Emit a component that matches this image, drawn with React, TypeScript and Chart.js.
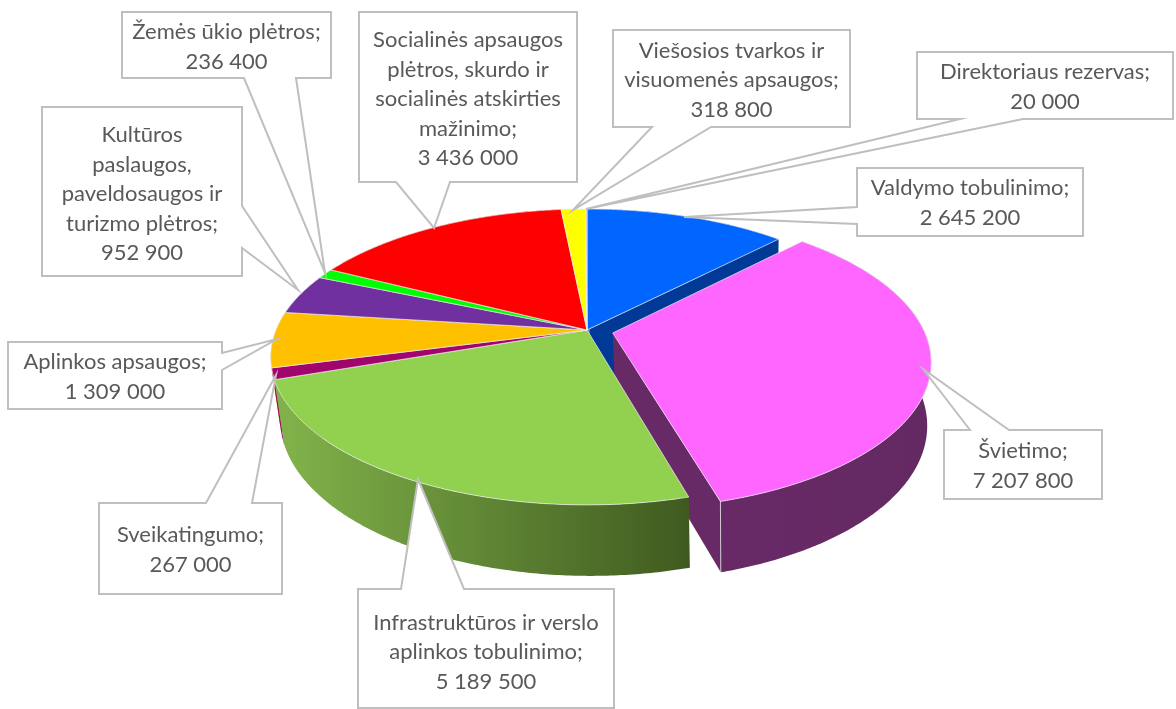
import React, { useEffect, useRef } from "react";
import { Chart, registerables } from "chart.js";

Chart.register(...registerables);

// ---- data ----
const categories = [
  "Valdymo tobulinimo",
  "Švietimo",
  "Infrastruktūros ir verslo aplinkos tobulinimo",
  "Sveikatingumo",
  "Aplinkos apsaugos",
  "Kultūros paslaugos, paveldosaugos ir turizmo plėtros",
  "Žemės ūkio plėtros",
  "Socialinės apsaugos plėtros, skurdo ir socialinės atskirties mažinimo",
  "Viešosios tvarkos ir visuomenės apsaugos",
  "Direktoriaus rezervas",
];
const values = [2645200, 7207800, 5189500, 267000, 1309000, 952900, 236400, 3436000, 318800, 20000];
const labelLines = [
  ["Valdymo tobulinimo;"],
  ["Švietimo;"],
  ["Infrastruktūros ir verslo", "aplinkos tobulinimo;"],
  ["Sveikatingumo;"],
  ["Aplinkos apsaugos;"],
  ["Kultūros", "paslaugos,", "paveldosaugos ir", "turizmo plėtros;"],
  ["Žemės ūkio plėtros;"],
  ["Socialinės apsaugos", "plėtros, skurdo ir", "socialinės atskirties", "mažinimo;"],
  ["Viešosios tvarkos ir", "visuomenės apsaugos;"],
  ["Direktoriaus rezervas;"],
];

// ---- styles ----
const topColors = ["#0066FF", "#FF66FF", "#92D050", "#A1046D", "#FFC000", "#7030A0", "#00FF00", "#FF0000", "#FFFF00", "#C4C4C4"];
const sideLeft = ["#003A96", "#682A67", "#82B44B", "#A1046D", "#A67C00", "#4A2069", "#00A000", "#A00000", "#A0A000", "#808080"];
const sideRight = ["#003A96", "#642962", "#3F5A1F", "#A1046D", "#A67C00", "#4A2069", "#00A000", "#A00000", "#A0A000", "#808080"];
const explodedIndex = 1;
const EXPLODE = 0.085; // fraction of the radius
const TILT = 0.46; // vertical squash of the disc
const PERSP = 0.182; // perspective strength along the disc depth
const PERSP_Z = 0.02; // perspective strength along the extrusion
const DEPTH = 63; // extrusion in px
const SHEAR = 3; // sideways drift of the extrusion in px
const FONT = '22px Lato, "Open Sans", sans-serif';
const LINE_H = 29.5;

// ---- callout layout, same order as categories ----
const callouts = [
  { box: [857, 168, 1083, 236], side: "left", a: 207, b: 224, tip: [684, 217], cy: 203 },
  { box: [944, 430, 1102, 499], side: "top", a: 970, b: 1009, tip: [923, 369], cy: 466 },
  { box: [358, 589, 614, 708], side: "top", a: 401, b: 464, tip: [418, 479], cy: 652 },
  { box: [99, 503, 282, 594], side: "top", a: 206, b: 252, tip: [276, 375], cy: 550 },
  { box: [8, 342, 222, 409], side: "right", a: 353, b: 370, tip: [277, 339], cy: 377 },
  { box: [42, 107, 242, 276], side: "right", a: 206, b: 248, tip: [298, 290], cy: 194 },
  { box: [122, 12, 331, 78], side: "bottom", a: 244, b: 296, tip: [325, 273], cy: 47 },
  { box: [359, 12, 577, 182], side: "bottom", a: 396, b: 450, tip: [434, 228], cy: 99 },
  { box: [613, 30, 850, 127], side: "bottom", a: 652, b: 711, tip: [573, 210], cy: 80 },
  { box: [917, 52, 1173, 119], side: "bottom", a: 960, b: 1023, tip: [586, 209], cy: 87 },
];

const fmt = (v: number) => String(v).replace(/\B(?=(\d{3})+(?!\d))/g, " ");

type Pt = [number, number];

function projector(el: any) {
  const { x, y, outerRadius: R } = el;
  return (u: number, v: number, z: number): Pt => {
    const w = 1 - PERSP * v + PERSP_Z * z;
    return [x + (R * u + SHEAR * z) / w, y + (R * TILT * v + DEPTH * z) / w];
  };
}

function polyArea(p: Pt[]) {
  let s = 0;
  p.forEach((q, i) => {
    const r = p[(i + 1) % p.length];
    s += q[0] * r[1] - r[0] * q[1];
  });
  return s;
}

function fillPoly(ctx: CanvasRenderingContext2D, pts: Pt[], fill: any, stroke?: string) {
  ctx.beginPath();
  pts.forEach((p, i) => (i ? ctx.lineTo(p[0], p[1]) : ctx.moveTo(p[0], p[1])));
  ctx.closePath();
  ctx.fillStyle = fill;
  ctx.fill();
  if (stroke) {
    ctx.strokeStyle = stroke;
    ctx.lineWidth = 1;
    ctx.stroke();
  }
}

function arcAngles(a0: number, a1: number) {
  const n = Math.max(2, Math.ceil((a1 - a0) / 0.01));
  const out: number[] = [];
  for (let i = 0; i <= n; i++) out.push(a0 + ((a1 - a0) * i) / n);
  return out;
}

function sliceGeometry(el: any, i: number) {
  const P = projector(el);
  const a0 = el.startAngle;
  const a1 = el.endAngle;
  const mid = (a0 + a1) / 2;
  const e = i === explodedIndex ? EXPLODE : 0;
  const ou = e * Math.cos(mid);
  const ov = e * Math.sin(mid);
  const at = (a: number, z: number) => P(ou + Math.cos(a), ov + Math.sin(a), z);
  const c = (z: number) => P(ou, ov, z);
  return { a0, a1, mid, at, c };
}

const pie3d = {
  id: "pie3d",
  beforeDatasetDraw(chart: any, args: any) {
    const ctx: CanvasRenderingContext2D = chart.ctx;
    const arcs = args.meta.data;
    const geo = arcs.map((el: any, i: number) => sliceGeometry(el, i));

    const strokeEdge = (p: Pt, q: Pt) => {
      ctx.beginPath();
      ctx.moveTo(p[0], p[1]);
      ctx.lineTo(q[0], q[1]);
      ctx.strokeStyle = "rgba(235,235,235,0.75)";
      ctx.lineWidth = 1;
      ctx.stroke();
    };
    const cutWalls = (i: number) => {
      const g = geo[i];
      const end: Pt[] = [g.c(0), g.at(g.a1, 0), g.at(g.a1, 1), g.c(1)];
      const start: Pt[] = [g.c(0), g.at(g.a0, 0), g.at(g.a0, 1), g.c(1)];
      if (polyArea(end) > 0) {
        fillPoly(ctx, end, sideLeft[i]);
        strokeEdge(end[1], end[2]);
      }
      if (polyArea(start) < 0) {
        fillPoly(ctx, start, sideLeft[i]);
        strokeEdge(start[1], start[2]);
      }
    };
    const outerWall = (i: number) => {
      const g = geo[i];
      const as = arcAngles(g.a0, g.a1);
      const pts: Pt[] = [...as.map((a) => g.at(a, 0)), ...as.slice().reverse().map((a) => g.at(a, 1))];
      const xs = pts.map((p) => p[0]);
      const grad = ctx.createLinearGradient(Math.min(...xs), 0, Math.max(...xs), 0);
      grad.addColorStop(0, sideLeft[i]);
      grad.addColorStop(1, sideRight[i]);
      fillPoly(ctx, pts, grad);
    };
    const top = (i: number) => {
      const g = geo[i];
      const pts: Pt[] = [g.c(0), ...arcAngles(g.a0, g.a1).map((a) => g.at(a, 0))];
      fillPoly(ctx, pts, topColors[i], "rgba(240,240,240,0.7)");
    };

    const order: number[] = arcs.map((_: any, i: number) => i);
    const main = order.filter((i) => i !== explodedIndex);
    const backToFront = main.slice().sort((p, q) => Math.sin(geo[p].mid) - Math.sin(geo[q].mid));
    main.forEach(cutWalls);
    outerWall(explodedIndex);
    cutWalls(explodedIndex);
    backToFront.forEach(outerWall);
    main.forEach(top);
    top(explodedIndex);
    return false;
  },
  afterDatasetsDraw(chart: any) {
    const ctx: CanvasRenderingContext2D = chart.ctx;
    callouts.forEach((c, i) => {
      const [x0, y0, x1, y1] = c.box;
      const t = c.tip as Pt;
      let pts: Pt[];
      if (c.side === "top") pts = [[x0, y0], [c.a, y0], t, [c.b, y0], [x1, y0], [x1, y1], [x0, y1]];
      else if (c.side === "right") pts = [[x0, y0], [x1, y0], [x1, c.a], t, [x1, c.b], [x1, y1], [x0, y1]];
      else if (c.side === "bottom") pts = [[x0, y0], [x1, y0], [x1, y1], [c.b, y1], t, [c.a, y1], [x0, y1]];
      else pts = [[x0, y0], [x1, y0], [x1, y1], [x0, y1], [x0, c.b], t, [x0, c.a]];
      ctx.save();
      ctx.lineJoin = "miter";
      ctx.beginPath();
      pts.forEach((p, k) => (k ? ctx.lineTo(p[0], p[1]) : ctx.moveTo(p[0], p[1])));
      ctx.closePath();
      ctx.fillStyle = "#FFFFFF";
      ctx.fill();
      ctx.strokeStyle = "#BFBFBF";
      ctx.lineWidth = 2;
      ctx.stroke();
      const lines = [...labelLines[i], fmt(values[i])];
      ctx.font = FONT;
      ctx.fillStyle = "#595959";
      ctx.textAlign = "center";
      ctx.textBaseline = "middle";
      const cx = (x0 + x1) / 2;
      lines.forEach((s, k) => ctx.fillText(s, cx, c.cy + (k - (lines.length - 1) / 2) * LINE_H));
      ctx.restore();
    });
  },
};

export default function App() {
  const ref = useRef<HTMLCanvasElement | null>(null);
  useEffect(() => {
    document.body.style.margin = "0";
    document.body.style.background = "#FFFFFF";
    const chart = new Chart(ref.current as HTMLCanvasElement, {
      type: "pie",
      data: {
        labels: categories,
        datasets: [{ data: values, backgroundColor: topColors, borderWidth: 0 }],
      },
      options: {
        responsive: false,
        animation: false,
        layout: { padding: { left: 0, right: 2, top: 19, bottom: 68 } },
        plugins: { legend: { display: false }, tooltip: { enabled: false } },
      },
      plugins: [pie3d],
    } as any);
    return () => chart.destroy();
  }, []);
  return <canvas ref={ref} width={1176} height={709} style={{ display: "block" }} />;
}
